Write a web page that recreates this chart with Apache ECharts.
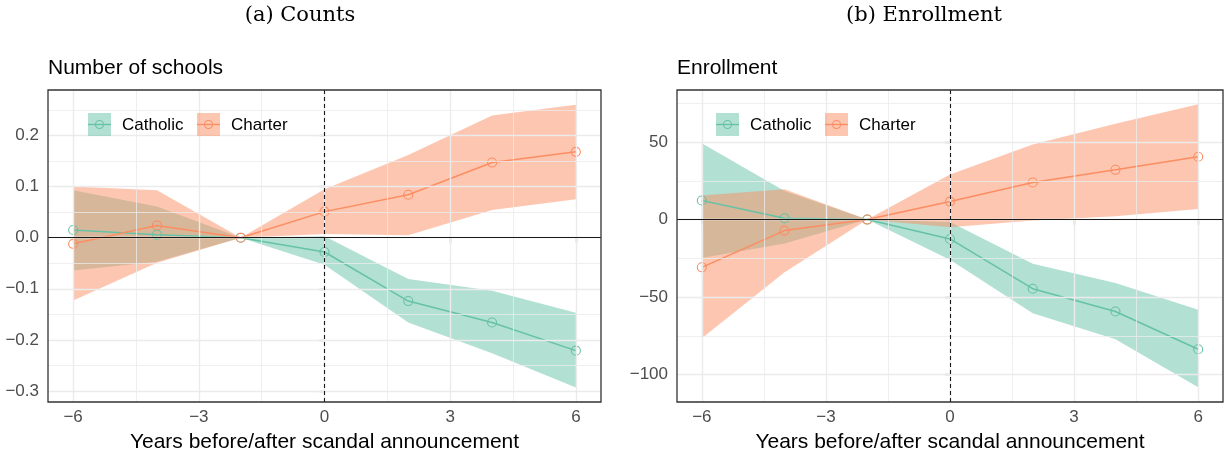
<!DOCTYPE html>
<html>
<head>
<meta charset="utf-8">
<script src="https://cdn.jsdelivr.net/npm/echarts@6/dist/echarts.min.js"></script>
<style>
  html, body { margin: 0; padding: 0; background: #ffffff; }
  #chart { width: 1226px; height: 454px; }
</style>
</head>
<body>
<div id="chart"></div>
<script>
// Event-study estimates with 95% confidence bands, by years relative to the announcement
const years = [-6, -4, -2, 0, 2, 4, 6];
const groups = ['Catholic', 'Charter'];

// (a) Number of schools
const schoolsCatholic   = [0.015, 0.006, 0, -0.028, -0.124, -0.166, -0.221];
const schoolsCatholicLo = [-0.064, -0.047, 0, -0.053, -0.166, -0.226, -0.293];
const schoolsCatholicHi = [0.093, 0.061, 0, 0.003, -0.081, -0.104, -0.147];
const schoolsCharter    = [-0.012, 0.024, 0, 0.051, 0.084, 0.147, 0.168];
const schoolsCharterLo  = [-0.123, -0.049, 0, 0.007, 0.005, 0.054, 0.075];
const schoolsCharterHi  = [0.100, 0.093, 0, 0.095, 0.162, 0.239, 0.260];

// (b) Enrollment
const enrollCatholic   = [12.3, 0.9, 0, -12.5, -44.6, -59.3, -83.7];
const enrollCatholicLo = [-24.8, -15.5, 0, -26, -60.4, -77.2, -108.2];
const enrollCatholicHi = [49.2, 18.5, 0, -1.5, -28.5, -41, -58.2];
const enrollCharter    = [-30.8, -7.1, 0, 11.6, 23.9, 32.1, 40.5];
const enrollCharterLo  = [-76.5, -34, 0, -5, -0.6, 2.2, 6.9];
const enrollCharterHi  = [15.5, 19.5, 0, 29.1, 48.5, 61.9, 74.4];

// Axis ticks (major and minor grid positions)
const xTicks = [-6, -3, 0, 3, 6];
const xMinor = [-4.5, -1.5, 1.5, 4.5];
const schoolsTicks = [-0.3, -0.2, -0.1, 0, 0.1, 0.2];
const schoolsMinor = [-0.25, -0.15, -0.05, 0.05, 0.15, 0.25];
const enrollTicks = [-100, -50, 0, 50];
const enrollMinor = [-75, -25, 25, 75];

const COLORS = { Catholic: '#66c2a5', Charter: '#fc8d62' };
const SANS = 'Liberation Sans, Arial, Helvetica, sans-serif';
const SERIF = 'DejaVu Serif, Liberation Serif, serif';
const minus = s => String(s).replace('-', '\u2212');

function pairs(xs, ys) { return xs.map((x, i) => [x, ys[i]]); }

// Confidence ribbon: one polygon through the upper bounds and back along the lower bounds
function bandSeries(lo, hi, color, idx) {
  const rows = years.map((x, i) => [x, lo[i], hi[i]]);
  return {
    type: 'custom', xAxisIndex: idx, yAxisIndex: idx, z: 3, silent: true,
    data: rows,
    encode: { x: 0, y: [1, 2] },
    renderItem: (params, api) => {
      if (params.dataIndex !== 0) return null;
      const upper = rows.map(r => api.coord([r[0], r[2]]));
      const lower = rows.map(r => api.coord([r[0], r[1]])).reverse();
      return {
        type: 'polygon',
        shape: { points: upper.concat(lower) },
        style: { fill: color, opacity: 0.5 }
      };
    }
  };
}

function lineSeries(name, ys, color, idx) {
  return {
    name, type: 'line', xAxisIndex: idx, yAxisIndex: idx, z: 4,
    data: pairs(years, ys),
    symbol: 'circle', symbolSize: 9, showSymbol: true, silent: true,
    lineStyle: { color: color, width: 1.5 },
    itemStyle: { color: 'rgba(0,0,0,0)', borderColor: color, borderWidth: 1.1 }
  };
}

function gridLines(idx, yMajor, yMinor) {
  const data = [];
  xTicks.forEach(v => data.push({ xAxis: v, lineStyle: { color: '#ebebeb', width: 1.4, type: 'solid' } }));
  xMinor.forEach(v => data.push({ xAxis: v, lineStyle: { color: '#ebebeb', width: 0.8, type: 'solid' } }));
  yMajor.forEach(v => data.push({ yAxis: v, lineStyle: { color: '#ebebeb', width: 1.4, type: 'solid' } }));
  yMinor.forEach(v => data.push({ yAxis: v, lineStyle: { color: '#ebebeb', width: 0.8, type: 'solid' } }));
  return {
    type: 'line', xAxisIndex: idx, yAxisIndex: idx, data: [], z: 1, silent: true,
    markLine: { silent: true, symbol: ['none', 'none'], label: { show: false }, animation: false, data }
  };
}

function refLines(idx) {
  return {
    type: 'line', xAxisIndex: idx, yAxisIndex: idx, data: [], z: 2, silent: true,
    markLine: {
      silent: true, symbol: ['none', 'none'], label: { show: false }, animation: false,
      data: [
        { yAxis: 0, lineStyle: { color: '#1a1a1a', width: 1.1, type: 'solid' } },
        { xAxis: 0, lineStyle: { color: '#1a1a1a', width: 1.1, type: [4, 3] } }
      ]
    }
  };
}

function xAxisDef(idx) {
  return {
    type: 'value', gridIndex: idx, min: -6.6, max: 6.6,
    splitLine: { show: false }, axisLine: { show: false },
    axisTick: { show: true, customValues: xTicks, length: 5, lineStyle: { color: '#333333', width: 1.2 } },
    axisLabel: { customValues: xTicks, formatter: v => minus(v), color: '#4d4d4d', fontSize: 17, fontFamily: SANS, margin: 7 },
    name: 'Years before/after scandal announcement', nameLocation: 'middle', nameGap: 30,
    nameTextStyle: { color: '#000000', fontSize: 21, fontFamily: SANS }
  };
}

function yAxisDef(idx, min, max, ticks, fmt) {
  return {
    type: 'value', gridIndex: idx, min, max,
    splitLine: { show: false }, axisLine: { show: false },
    axisTick: { show: true, customValues: ticks, length: 5, lineStyle: { color: '#333333', width: 1.2 } },
    axisLabel: { customValues: ticks, formatter: v => minus(fmt(v)), color: '#4d4d4d', fontSize: 17, fontFamily: SANS, margin: 9 }
  };
}

function legendGraphics(keyXs, top) {
  const els = [];
  groups.forEach((g, i) => {
    const x = keyXs[i], c = COLORS[g];
    els.push({ type: 'rect', shape: { x: x, y: top, width: 23, height: 23 }, style: { fill: c, opacity: 0.5 }, z: 20 });
    els.push({ type: 'line', shape: { x1: x, y1: top + 11.5, x2: x + 23, y2: top + 11.5 }, style: { stroke: c, lineWidth: 1.3 }, z: 21 });
    els.push({ type: 'circle', shape: { cx: x + 11.5, cy: top + 11.5, r: 4 }, style: { stroke: c, fill: null, lineWidth: 1.1 }, z: 21 });
    els.push({ type: 'text', x: x + 34, y: top + 12, style: { text: g, font: '17px ' + SANS, fill: '#000000', textVerticalAlign: 'middle' }, z: 21 });
  });
  return els;
}

const chart = echarts.init(document.getElementById('chart'), null, { renderer: 'canvas' });

const gridBase = { show: true, borderColor: '#333333', borderWidth: 1.3, backgroundColor: 'transparent', z: 10, containLabel: false, outerBoundsMode: 'none' };

chart.setOption({
  animation: false,
  backgroundColor: '#ffffff',
  grid: [
    Object.assign({ left: 48, top: 90, width: 553, height: 312 }, gridBase),
    Object.assign({ left: 677, top: 90, width: 546, height: 312 }, gridBase)
  ],
  xAxis: [xAxisDef(0), xAxisDef(1)],
  yAxis: [
    yAxisDef(0, -0.3215, 0.289, schoolsTicks, v => Number(v).toFixed(1)),
    yAxisDef(1, -117.7, 83.6, enrollTicks, v => String(Math.round(v)))
  ],
  graphic: [
    { type: 'text', x: 300, y: 16, style: { text: '(a) Counts', font: '21px ' + SERIF, fill: '#000000', textAlign: 'center', textVerticalAlign: 'middle' } },
    { type: 'text', x: 924, y: 16, style: { text: '(b) Enrollment', font: '21px ' + SERIF, fill: '#000000', textAlign: 'center', textVerticalAlign: 'middle' } },
    { type: 'text', x: 48, y: 68, style: { text: 'Number of schools', font: '21px ' + SANS, fill: '#000000', textVerticalAlign: 'middle' } },
    { type: 'text', x: 677, y: 68, style: { text: 'Enrollment', font: '21px ' + SANS, fill: '#000000', textVerticalAlign: 'middle' } },
    ...legendGraphics([88, 197], 113),
    ...legendGraphics([716, 825], 113)
  ],
  series: [
    gridLines(0, schoolsTicks, schoolsMinor),
    gridLines(1, enrollTicks, enrollMinor),
    refLines(0),
    refLines(1),
    bandSeries(schoolsCatholicLo, schoolsCatholicHi, COLORS.Catholic, 0),
    bandSeries(schoolsCharterLo, schoolsCharterHi, COLORS.Charter, 0),
    bandSeries(enrollCatholicLo, enrollCatholicHi, COLORS.Catholic, 1),
    bandSeries(enrollCharterLo, enrollCharterHi, COLORS.Charter, 1),
    lineSeries('Catholic', schoolsCatholic, COLORS.Catholic, 0),
    lineSeries('Charter', schoolsCharter, COLORS.Charter, 0),
    lineSeries('Catholic', enrollCatholic, COLORS.Catholic, 1),
    lineSeries('Charter', enrollCharter, COLORS.Charter, 1)
  ]
});
</script>
</body>
</html>
